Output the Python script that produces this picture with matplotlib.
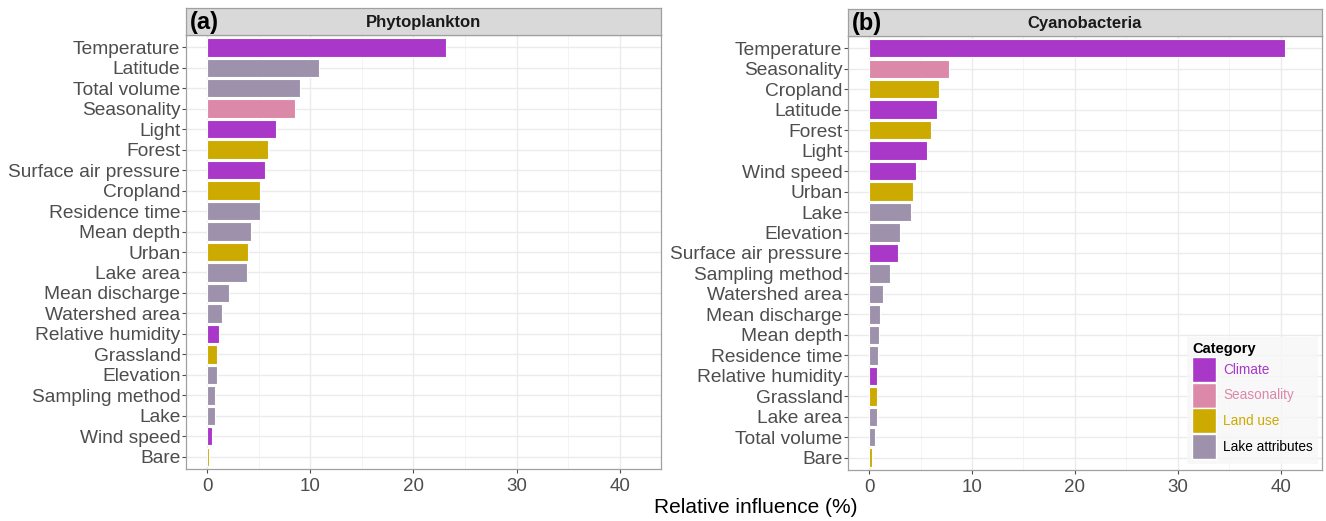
import numpy as np
import matplotlib.pyplot as plt
from matplotlib.patches import Patch
from matplotlib import font_manager

# pick a narrow font if there is one
names = {f.name for f in font_manager.fontManager.ttflist}
if 'Liberation Sans Narrow' in names:
    plt.rcParams['font.family'] = ['Liberation Sans Narrow', 'DejaVu Sans']
else:
    plt.rcParams['font.family'] = ['Liberation Sans', 'DejaVu Sans']

colors = {
    'Climate': '#A937C8',
    'Seasonality': '#DC88A9',
    'Land use': '#CCAA00',
    'Lake attributes': '#9D91AB',
}
cat_order = ['Climate', 'Seasonality', 'Land use', 'Lake attributes']

# ---- data (a) Phytoplankton
phyto_vars = ['Temperature', 'Latitude', 'Total volume', 'Seasonality', 'Light', 'Forest',
              'Surface air pressure', 'Cropland', 'Residence time', 'Mean depth', 'Urban',
              'Lake area', 'Mean discharge', 'Watershed area', 'Relative humidity', 'Grassland',
              'Elevation', 'Sampling method', 'Lake', 'Wind speed', 'Bare']
phyto_vals = [23.2, 10.8, 9.0, 8.5, 6.7, 5.9, 5.6, 5.1, 5.1, 4.2, 4.0,
              3.9, 2.1, 1.45, 1.1, 1.0, 0.95, 0.8, 0.75, 0.5, 0.2]
phyto_cats = ['Climate', 'Lake attributes', 'Lake attributes', 'Seasonality', 'Climate', 'Land use',
              'Climate', 'Land use', 'Lake attributes', 'Lake attributes', 'Land use',
              'Lake attributes', 'Lake attributes', 'Lake attributes', 'Climate', 'Land use',
              'Lake attributes', 'Lake attributes', 'Lake attributes', 'Climate', 'Land use']

# ---- data (b) Cyanobacteria
cyano_vars = ['Temperature', 'Seasonality', 'Cropland', 'Latitude', 'Forest', 'Light',
              'Wind speed', 'Urban', 'Lake', 'Elevation', 'Surface air pressure',
              'Sampling method', 'Watershed area', 'Mean discharge', 'Mean depth',
              'Residence time', 'Relative humidity', 'Grassland', 'Lake area',
              'Total volume', 'Bare']
cyano_vals = [40.4, 7.8, 6.8, 6.6, 6.0, 5.6, 4.6, 4.3, 4.1, 3.0, 2.85,
              2.0, 1.4, 1.1, 1.0, 0.85, 0.8, 0.8, 0.75, 0.6, 0.25]
cyano_cats = ['Climate', 'Seasonality', 'Land use', 'Climate', 'Land use', 'Climate',
              'Climate', 'Land use', 'Lake attributes', 'Lake attributes', 'Climate',
              'Lake attributes', 'Lake attributes', 'Lake attributes', 'Lake attributes',
              'Lake attributes', 'Climate', 'Land use', 'Lake attributes',
              'Lake attributes', 'Land use']

fig = plt.figure(figsize=(13.26, 5.21), dpi=100)

panels = [
    ([0.1403, 0.0998, 0.3582, 0.833], phyto_vars, phyto_vals, phyto_cats, '(a)', 'Phytoplankton'),
    ([0.6395, 0.0979, 0.3575, 0.833], cyano_vars, cyano_vals, cyano_cats, '(b)', 'Cyanobacteria'),
]

axes = []
for rect, vars_, vals, cats, tag, title in panels:
    ax = fig.add_axes(rect)
    n = len(vars_)
    y = np.arange(n)[::-1]
    ax.barh(y, vals, height=0.9, color=[colors[c] for c in cats],
            edgecolor='white', linewidth=0.8, zorder=3)
    ax.set_yticks(y)
    ax.set_yticklabels(vars_, fontsize=13.8, color='#4D4D4D')
    ax.set_ylim(-0.6, n - 1 + 0.6)
    ax.set_xlim(-2.05, 44.0)
    ax.set_xticks([0, 10, 20, 30, 40])
    ax.set_xticks([5, 15, 25, 35], minor=True)
    ax.tick_params(axis='x', labelsize=13.5, colors='#4D4D4D', length=3, width=0.8)
    ax.tick_params(axis='x', which='minor', length=0)
    ax.tick_params(axis='y', colors='#4D4D4D', length=3, width=0.8, pad=1)
    ax.set_axisbelow(True)
    ax.grid(which='major', color='#EBEBEB', linewidth=1.0)
    ax.grid(which='minor', axis='x', color='#F2F2F2', linewidth=0.6)
    for s in ax.spines.values():
        s.set_color('#A0A0A0')
        s.set_linewidth(0.9)
    # facet strip
    strip = fig.add_axes([rect[0], rect[1] + rect[3], rect[2], 0.0518])
    strip.set_xticks([])
    strip.set_yticks([])
    strip.set_facecolor('#D9D9D9')
    for s in strip.spines.values():
        s.set_color('#A0A0A0')
        s.set_linewidth(0.9)
    strip.text(0.5, 0.48, title, ha='center', va='center', fontsize=12,
               fontweight='bold', color='#1A1A1A', transform=strip.transAxes)
    strip.text(0.008, 0.45, tag, ha='left', va='center', fontsize=17,
               fontweight='bold', color='black', transform=strip.transAxes)
    axes.append(ax)

fig.text(0.57, 0.025, 'Relative influence (%)', ha='center', va='center', fontsize=15)

handles = [Patch(facecolor=colors[c], edgecolor='white', label=c) for c in cat_order]
leg = axes[1].legend(handles=handles, title='Category', loc='lower right',
                     bbox_to_anchor=(1.0, 0.005), fontsize=9.8, title_fontsize=10.5,
                     frameon=True, fancybox=False, handlelength=1.75, handleheight=2.45,
                     handletextpad=0.55, labelspacing=0.05, borderpad=0.35,
                     borderaxespad=0.3, alignment='left')
leg.get_title().set_fontweight('bold')
leg.get_frame().set_facecolor('#F7F7F7')
leg.get_frame().set_edgecolor('none')
for t, c in zip(leg.get_texts(), cat_order):
    t.set_color(colors[c] if c != 'Lake attributes' else 'black')

fig.savefig('out.png', dpi=100)
